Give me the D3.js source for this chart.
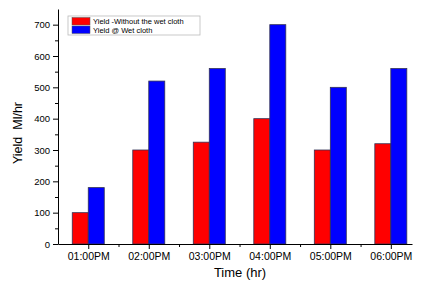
<!DOCTYPE html>
<html>
<meta charset="UTF-8">
<style>
body { margin: 0; background: #fff; }
text { font-family: "Liberation Sans", Arial, sans-serif; }
.axis path, .axis line { stroke: #000; stroke-width: 1px; }
.bar { stroke: #333355; stroke-width: 0.8px; }
</style>
<svg width="426" height="290"></svg>
<script src="https://d3js.org/d3.v7.min.js"></script>
<script>
//	data
var times = ["01:00PM", "02:00PM", "03:00PM", "04:00PM", "05:00PM", "06:00PM"];
var withoutCloth = [100, 300, 325, 400, 300, 320];
var wetCloth = [180, 520, 560, 700, 500, 560];
var yTicks = [0, 100, 200, 300, 400, 500, 600, 700];
var seriesNames = ["Yield -Without the wet cloth", "Yield @ Wet cloth"];
var seriesColors = ["#ff0000", "#0000ff"];

var svg = d3.select("svg");

//	scales: category index on a linear axis
var x = d3.scaleLinear().domain([0.5, 6.35]).range([58, 412]);
var y = d3.scaleLinear().domain([0, 750]).range([244, 9]);
var barW = 16;

//	bars
var series = [withoutCloth, wetCloth];
series.forEach(function(vals, s) {
	svg.append("g").selectAll("rect")
		.data(vals)
		.enter().append("rect")
		.attr("class", "bar")
		.attr("x", function(d, i) { return x(i + 1) - barW + s * barW; })
		.attr("y", function(d) { return y(d); })
		.attr("width", barW)
		.attr("height", function(d) { return y(0) - y(d); })
		.attr("fill", seriesColors[s]);
});

//	y axis
var yAxis = svg.append("g")
	.attr("class", "axis")
	.attr("transform", "translate(58,0)")
	.call(d3.axisLeft(y).tickValues(yTicks).tickSize(5).tickPadding(3).tickSizeOuter(0));
yAxis.selectAll("text").attr("font-size", 9.5).attr("fill", "#000");
svg.append("g")
	.attr("class", "axis")
	.attr("transform", "translate(58,0)")
	.call(d3.axisLeft(y).tickValues(d3.range(50, 750, 100)).tickSize(3).tickFormat("").tickSizeOuter(0))
	.select(".domain").remove();

//	x axis
var xAxis = svg.append("g")
	.attr("class", "axis")
	.attr("transform", "translate(0,244)")
	.call(d3.axisBottom(x).tickValues(d3.range(1, 7)).tickSize(5).tickPadding(4).tickSizeOuter(0)
		.tickFormat(function(d) { return times[d - 1]; }));
xAxis.selectAll("text").attr("font-size", 10.5).attr("fill", "#000");
svg.append("g")
	.attr("class", "axis")
	.attr("transform", "translate(0,244)")
	.call(d3.axisBottom(x).tickValues(d3.range(1.5, 6.5, 1)).tickSize(3).tickFormat("").tickSizeOuter(0))
	.select(".domain").remove();

//	axis titles
svg.append("text")
	.attr("transform", "translate(22,133) rotate(-90)")
	.attr("text-anchor", "middle")
	.attr("font-size", 12.5)
	.attr("xml:space", "preserve")
	.text("Yield  Ml/hr");
svg.append("text")
	.attr("x", 240)
	.attr("y", 277)
	.attr("text-anchor", "middle")
	.attr("font-size", 13)
	.text("Time (hr)");

//	legend
var legend = svg.append("g").attr("transform", "translate(68,16)");
legend.append("rect")
	.attr("width", 132).attr("height", 19)
	.attr("fill", "#fff").attr("stroke", "#bbb").attr("stroke-width", 0.8);
seriesNames.forEach(function(name, i) {
	legend.append("rect")
		.attr("x", 4).attr("y", 1.5 + i * 8.5)
		.attr("width", 18).attr("height", 7.5)
		.attr("fill", seriesColors[i]).attr("stroke", "#555").attr("stroke-width", 0.5);
	legend.append("text")
		.attr("x", 25).attr("y", 8 + i * 8.5)
		.attr("font-size", 7.5)
		.text(name);
});
</script>
</html>
